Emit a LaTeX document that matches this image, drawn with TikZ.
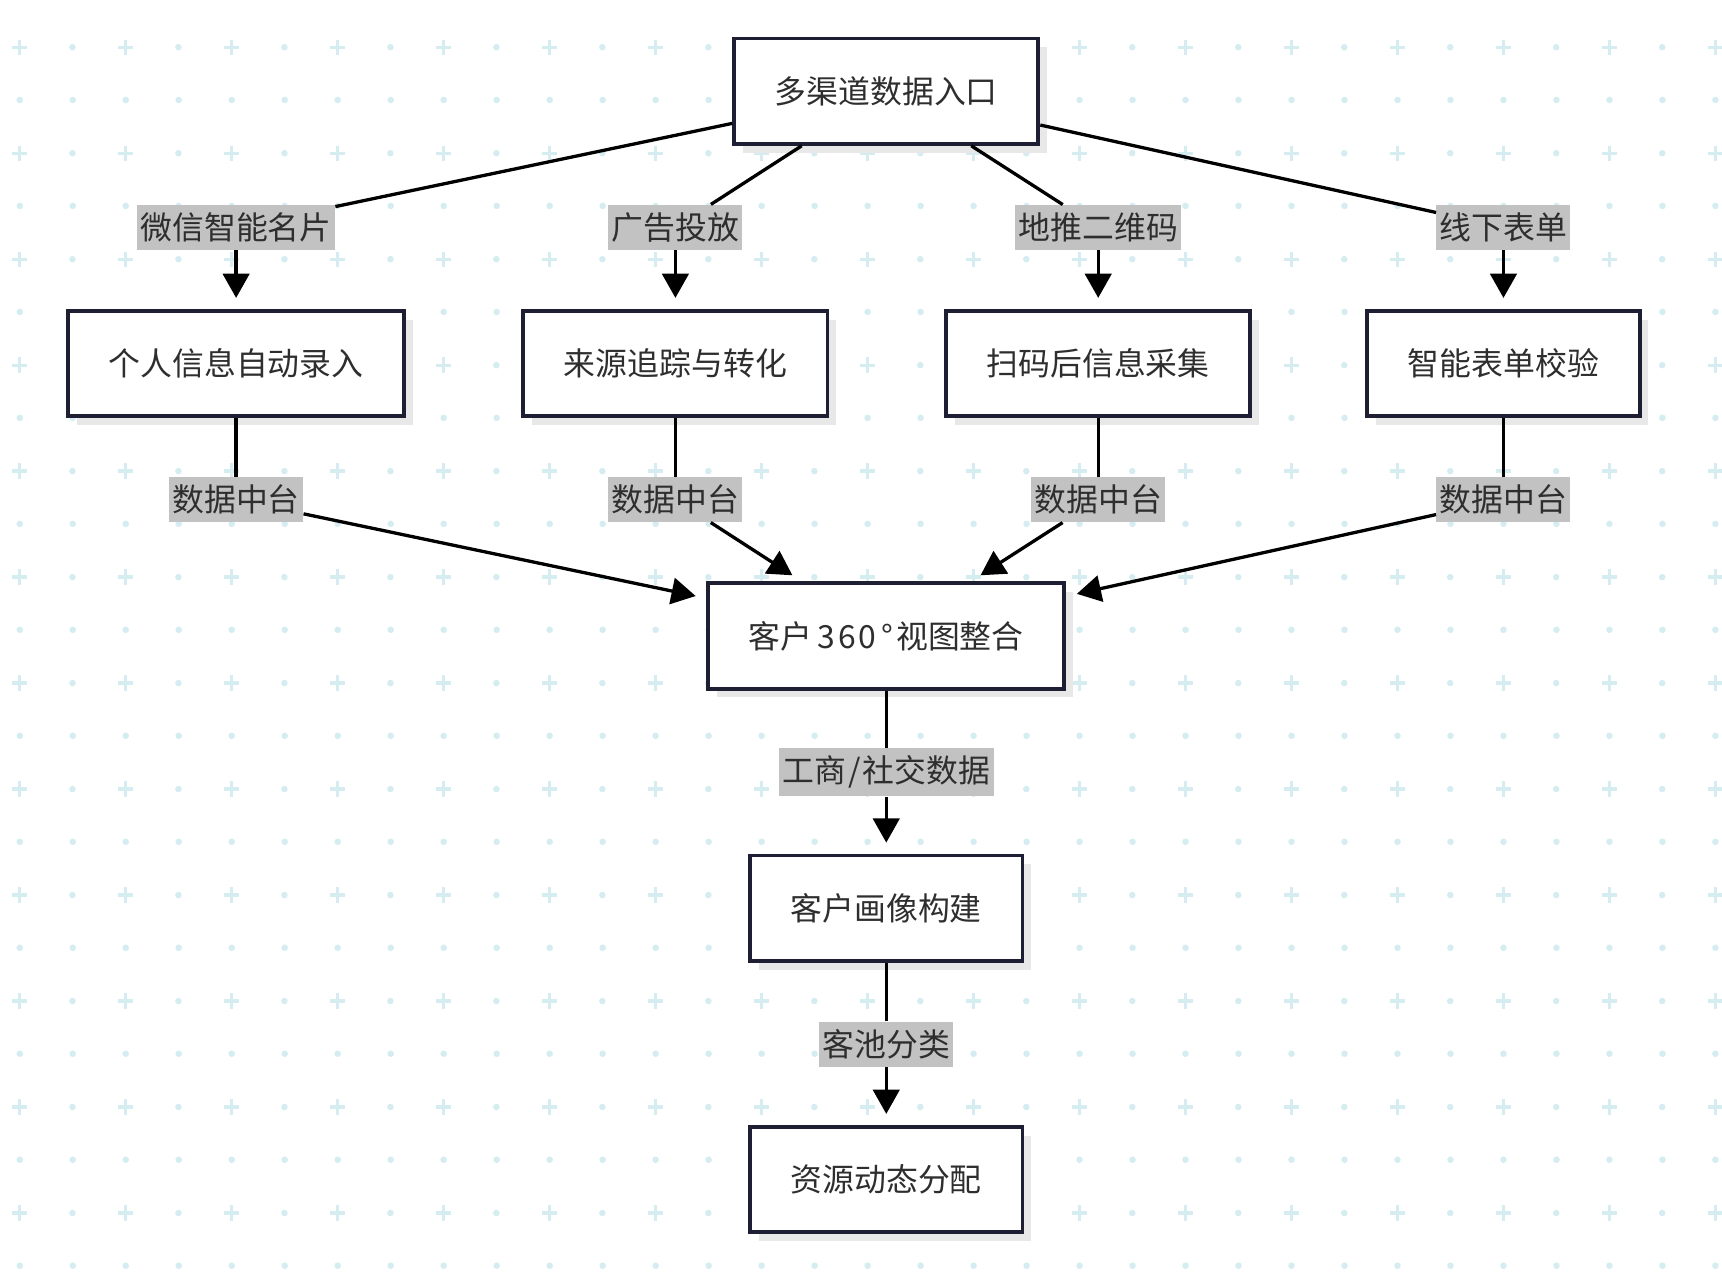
\documentclass[tikz,border=0pt]{standalone}
\usepackage{fontspec}
\setmainfont{Noto Sans CJK SC}
\usepackage{tikz}
\usetikzlibrary{arrows.meta}
\usetikzlibrary{shadows}
\definecolor{boxline}{HTML}{1F1F33}
\definecolor{textgray}{HTML}{2E2E2E}
\definecolor{tagbg}{HTML}{C2C2C2}
\definecolor{gridcyan}{HTML}{D5EDF0}
\definecolor{shadowgray}{HTML}{E8E8E8}
\tikzset{
    box/.style={draw=boxline, line width=1.75pt, fill=white, text=textgray,
        font=\fontsize{14.5pt}{17pt}\selectfont, inner xsep=18.5pt,
        minimum height=48pt,
        drop shadow={shadow xshift=4pt, shadow yshift=-4pt, fill=shadowgray, opacity=1}},
    tag/.style={fill=tagbg, text=textgray, font=\fontsize{14.5pt}{17pt}\selectfont,
        inner xsep=1.5pt, inner ysep=3.5pt},
    link/.style={draw=black, line width=1.5pt},
    arrow/.style={draw=black, line width=1.5pt, shorten >=5pt,
        -{Triangle[length=11pt,width=12pt]}}
}
\begin{document}
\begin{tikzpicture}[x=0.5pt, y=-0.5pt]
\useasboundingbox (0,0) rectangle (1568,1158);
\foreach \k in {0,...,11} {
  \foreach \i in {0,...,16}
    \draw[gridcyan, line width=1.5pt]
      (18+96.5*\i-7, 43+96.5*\k) -- ++(14,0)
      (18+96.5*\i, 43+96.5*\k-7) -- ++(0,14);
  \foreach \i in {0,...,15}
    \fill[gridcyan] (66+96.5*\i, 43+96.5*\k) circle (1.5pt);
  \foreach \i in {0,...,32}
    \fill[gridcyan] (18+48.25*\i, 91+96.5*\k) circle (1.5pt);
}

\node[box] (entry) at (807,83) {多渠道数据入口};
\node[box] (autofill) at (215,331) {个人信息自动录入};
\node[box] (tracking) at (615,331) {来源追踪与转化};
\node[box] (scaninfo) at (1000,331) {扫码后信息采集};
\node[box] (formcheck) at (1369,331) {智能表单校验};
\node[box] (view) at (807,579) {客户\kern2pt 3\kern1.5pt 6\kern1.5pt 0\kern2pt °\kern1.5pt 视图整合};
\node[box] (portrait) at (807,827) {客户画像构建};
\node[box] (alloc) at (807,1074) {资源动态分配};

\node[tag] (wechat) at (215,207) {微信智能名片};
\node[tag] (ads) at (615,207) {广告投放};
\node[tag] (qrcode) at (1000,207) {地推二维码};
\node[tag] (offline) at (1369,207) {线下表单};
\node[tag] (hubA) at (215,455) {数据中台};
\node[tag] (hubB) at (615,455) {数据中台};
\node[tag] (hubC) at (1000,455) {数据中台};
\node[tag] (hubD) at (1369,455) {数据中台};
\node[tag] (social) at (807,703) {工商\kern1pt/\kern1pt 社交数据};
\node[tag] (pool) at (807,951) {客池分类};

\draw[style={link}] (entry) -- (wechat);
\draw[style={arrow}] (wechat) -- (autofill);
\draw[style={link}] (entry) -- (ads);
\draw[style={arrow}] (ads) -- (tracking);
\draw[style={link}] (entry) -- (qrcode);
\draw[style={arrow}] (qrcode) -- (scaninfo);
\draw[style={link}] (entry) -- (offline);
\draw[style={arrow}] (offline) -- (formcheck);

\draw[style={link}] (autofill) -- (hubA);
\draw[style={arrow}] (hubA) -- (view);
\draw[style={link}] (tracking) -- (hubB);
\draw[style={arrow}] (hubB) -- (view);
\draw[style={link}] (scaninfo) -- (hubC);
\draw[style={arrow}] (hubC) -- (view);
\draw[style={link}] (formcheck) -- (hubD);
\draw[style={arrow}] (hubD) -- (view);

\draw[style={link}] (view) -- (social);
\draw[style={arrow}] (social) -- (portrait);
\draw[style={link}] (portrait) -- (pool);
\draw[style={arrow}] (pool) -- (alloc);
\end{tikzpicture}
\end{document}
